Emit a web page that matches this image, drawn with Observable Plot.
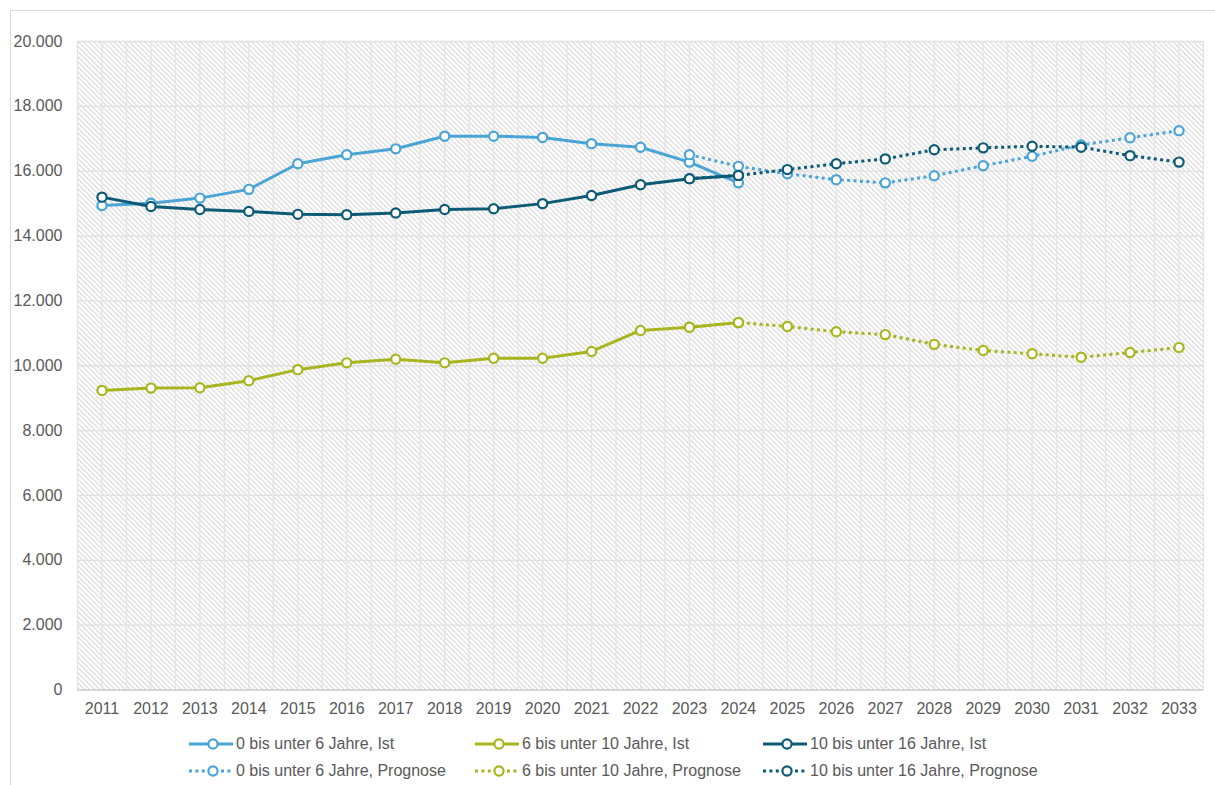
<!DOCTYPE html>
<html>
<head>
<meta charset="utf-8">
<script src="https://cdn.jsdelivr.net/npm/d3@7"></script>
<script src="https://cdn.jsdelivr.net/npm/@observablehq/plot@0.6"></script>
<style>
  html, body { margin: 0; padding: 0; background: #fff; overflow: hidden; width: 1215px; height: 785px; }
  body { font-family: Arial, "Liberation Sans", sans-serif; position: relative; }
  #border { position: absolute; left: 10px; top: 10px; width: 1300px; height: 900px; border: 1px solid #d9d9d9; box-sizing: border-box; }
  #chart { position: absolute; left: 0; top: 0; }
  .lg { position: absolute; display: flex; align-items: center; height: 20px; font-size: 16px; color: #595959; white-space: nowrap; }
  .lg svg { display: block; margin-right: 3px; }
</style>
</head>
<body>
<div id="border"></div>
<div id="chart"></div>
<div id="legend"></div>
<script>
// ---- Data ----
const yearsIst  = [2011, 2012, 2013, 2014, 2015, 2016, 2017, 2018, 2019, 2020, 2021, 2022, 2023, 2024];
const yearsProg = [2023, 2024, 2025, 2026, 2027, 2028, 2029, 2030, 2031, 2032, 2033];
const xTickYears = [2011, 2012, 2013, 2014, 2015, 2016, 2017, 2018, 2019, 2020, 2021, 2022, 2023, 2024, 2025, 2026, 2027, 2028, 2029, 2030, 2031, 2032, 2033];
const yTicks = [0, 2000, 4000, 6000, 8000, 10000, 12000, 14000, 16000, 18000, 20000];

const ist0bis6    = [14940, 15010, 15170, 15440, 16230, 16510, 16690, 17080, 17080, 17040, 16850, 16740, 16280, 15640];
const prog0bis6   = [16510, 16150, 15920, 15740, 15640, 15860, 16170, 16460, 16810, 17030, 17250];
const ist6bis10   = [9240, 9310, 9320, 9540, 9880, 10090, 10200, 10090, 10230, 10230, 10440, 11090, 11190, 11330];
const prog6bis10  = [11190, 11330, 11210, 11050, 10960, 10660, 10470, 10370, 10260, 10410, 10560];
const ist10bis16  = [15200, 14910, 14820, 14760, 14670, 14660, 14710, 14820, 14840, 15000, 15250, 15580, 15770, 15870];
const prog10bis16 = [15770, 15870, 16050, 16230, 16380, 16660, 16720, 16770, 16740, 16480, 16280];

const labels = [
  "0 bis unter 6 Jahre, Ist", "6 bis unter 10 Jahre, Ist", "10 bis unter 16 Jahre, Ist",
  "0 bis unter 6 Jahre, Prognose", "6 bis unter 10 Jahre, Prognose", "10 bis unter 16 Jahre, Prognose"
];
const colors = ["#4aa4d6", "#a8b51f", "#0d5a76"];

// series in drawing order (Ist first, then Prognose)
const series = [
  { name: labels[0], years: yearsIst,  values: ist0bis6,    color: colors[0], dotted: false },
  { name: labels[1], years: yearsIst,  values: ist6bis10,   color: colors[1], dotted: false },
  { name: labels[2], years: yearsIst,  values: ist10bis16,  color: colors[2], dotted: false },
  { name: labels[3], years: yearsProg, values: prog0bis6,   color: colors[0], dotted: true },
  { name: labels[4], years: yearsProg, values: prog6bis10,  color: colors[1], dotted: true },
  { name: labels[5], years: yearsProg, values: prog10bis16, color: colors[2], dotted: true }
];

const de = d3.formatLocale({ decimal: ",", thousands: ".", grouping: [3], currency: ["", " €"] });
const fmt = de.format(",");

// vertical grid at category centres and category boundaries
const vGrid = [];
for (const y of xTickYears) { vGrid.push(y - 0.5, y); }
vGrid.push(xTickYears[xTickYears.length - 1] + 0.5);

const marks = [
  Plot.frame({ fill: "url(#hatch)", stroke: null }),
  Plot.gridY(yTicks, { stroke: "#e0e0e0", strokeOpacity: 1, strokeWidth: 1.3 }),
  Plot.ruleX(vGrid, { stroke: "#e4e4e4", strokeWidth: 1.3 }),
  Plot.ruleY([0], { stroke: "#d0d0d0", strokeWidth: 1.3 }),
  Plot.axisY(yTicks, { label: null, tickSize: 0, tickPadding: 15, tickFormat: fmt, fontSize: 16, fill: "#595959" }),
  Plot.axisX(xTickYears, { label: null, tickSize: 0, tickPadding: 13, tickFormat: d => String(d), fontSize: 16, fill: "#595959" })
];
for (const s of series) {
  const data = s.years.map((yr, i) => ({ year: yr, value: s.values[i] }));
  marks.push(Plot.line(data, {
    x: "year", y: "value", stroke: s.color, strokeWidth: 3,
    strokeDasharray: s.dotted ? "3,3.4" : null, strokeLinecap: "butt", curve: "linear"
  }));
  marks.push(Plot.dot(data, {
    x: "year", y: "value", r: 4.6, fill: "white", stroke: s.color, strokeWidth: 2.2
  }));
}

const chart = Plot.plot({
  width: 1215,
  height: 720,
  marginLeft: 77,
  marginRight: 12,
  marginTop: 41,
  marginBottom: 30.5,
  style: { fontFamily: "Arial, 'Liberation Sans', sans-serif", fontSize: "16px", background: "transparent", overflow: "visible" },
  x: { type: "linear", domain: [2010.5, 2033.5], axis: null, label: null },
  y: { domain: [0, 20000], axis: null, label: null },
  marks
});

// hatch pattern for the plot area
const svg = d3.select(chart);
const defs = svg.insert("defs", ":first-child");
const pat = defs.append("pattern")
  .attr("id", "hatch").attr("patternUnits", "userSpaceOnUse")
  .attr("width", 3.6).attr("height", 3.6)
  .attr("patternTransform", "rotate(-45)");
pat.append("rect").attr("width", 3.6).attr("height", 3.6).attr("fill", "#ffffff");
pat.append("line").attr("x1", 0.6).attr("y1", 0).attr("x2", 0.6).attr("y2", 3.6)
  .attr("stroke", "#dadada").attr("stroke-width", 1.2);

document.getElementById("chart").appendChild(chart);

// legend (HTML below the plot)
const legendPos = [
  { left: 189, top: 734 }, { left: 475, top: 734 }, { left: 763, top: 734 },
  { left: 189, top: 761 }, { left: 475, top: 761 }, { left: 763, top: 761 }
];
const legend = document.getElementById("legend");
series.forEach((s, i) => {
  const div = document.createElement("div");
  div.className = "lg";
  div.style.left = legendPos[i].left + "px";
  div.style.top = legendPos[i].top + "px";
  const dash = s.dotted ? ' stroke-dasharray="3,3.4"' : "";
  div.innerHTML =
    `<svg width="44" height="16"><line x1="0" y1="8" x2="44" y2="8" stroke="${s.color}" stroke-width="3"${dash}/>` +
    `<circle cx="24" cy="8" r="4.6" fill="white" stroke="${s.color}" stroke-width="2.2"/></svg>` +
    `<span>${s.name}</span>`;
  legend.appendChild(div);
});
</script>
</body>
</html>
